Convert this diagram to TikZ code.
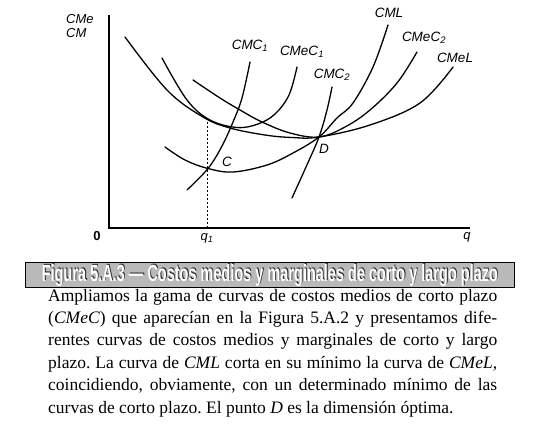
\documentclass[tikz,border=0pt]{standalone}
\usepackage{fontspec}
\setmainfont{Liberation Serif}
\setsansfont{Liberation Sans}
\usepackage{graphicx}
\begin{document}
\frenchspacing
\begin{tikzpicture}[x=1pt,y=-1pt,
  curve/.style={line width=1.3pt, line cap=round},
  axis/.style={line width=1.2pt},
  lab/.style={font=\sffamily\itshape\fontsize{13.5}{13.5}\selectfont, inner sep=0pt},
  axlab/.style={font=\sffamily\fontsize{13}{13}\selectfont, inner sep=0pt},
  para/.style={font=\fontsize{17.5}{17.5}\selectfont, inner sep=0pt, anchor=base west}]
\useasboundingbox (0,0) rectangle (535,428);
% axes
\coordinate (ytop) at (109,15);
\coordinate (orig) at (109,228);
\coordinate (xend) at (470,228);
\draw[axis] (ytop) -- (orig) -- (xend);
\node[axlab, anchor=west] (lCMe) at (66,19) {\itshape CMe};
\node[axlab, anchor=west] (lCM) at (66,33) {\itshape CM};
\node[axlab, font=\sffamily\bfseries\fontsize{13}{13}\selectfont] (l0) at (97,236) {0};
\node[axlab] (lq1) at (207,238) {\itshape q\textsubscript{1}};
\node[axlab] (lq) at (467,237) {\itshape q};
% points
\coordinate (C) at (208,168.5);
\coordinate (D) at (319,137);
\coordinate (q1top) at (207,122);
\coordinate (q1bot) at (207,228);
\draw[line width=0.8pt, dash pattern=on 2pt off 2pt] (q1top) -- (q1bot);
% CMeL
\draw[curve] plot[smooth, tension=0.6] coordinates {(125,37) (167,90) (203,117) (230,128) (265,135) (292,137.5) (D) (370,125) (420,103) (453,67)};
% CMeC1
\draw[curve] plot[smooth, tension=0.6] coordinates {(162,58) (187,100) (210,120) (237,127.5) (258,124) (275,114) (289,95) (297,67)};
% CMeC2
\draw[curve] plot[smooth, tension=0.6] coordinates {(193,80) (220,98) (240,110) (262,122) (290,133) (D) (345,127) (370,110) (397,83) (417,52)};
% CML
\draw[curve] plot[smooth, tension=0.6] coordinates {(165,147) (185,160) (C) (233,172) (267,165) (293,153) (D) (337,118) (353,103) (373,67) (388,25)};
% CMC1
\draw[curve] plot[smooth, tension=0.6] coordinates {(187,190) (C) (222,146) (233,122) (242,98) (250,62)};
% CMC2
\draw[curve] plot[smooth, tension=0.6] coordinates {(292,198) (306,167) (D) (327,110) (332,87)};
% labels
\node[lab] (lC) at (227,162) {C};
\node[lab] (lD) at (324,149) {D};
\node[lab] (lCMC1) at (250,46) {CMC\textsubscript{1}};
\node[lab] (lCMeC1) at (302,52) {CMeC\textsubscript{1}};
\node[lab] (lCMC2) at (332,75) {CMC\textsubscript{2}};
\node[lab] (lCML) at (389,13) {CML};
\node[lab] (lCMeC2) at (424,38) {CMeC\textsubscript{2}};
\node[lab] (lCMeL) at (455,58) {CMeL};
% banner
\node[draw=black, line width=1pt, fill=gray!55, minimum width=489pt, minimum height=25pt, anchor=north west, inner sep=0pt] (bar) at (25,262) {};
\node[inner sep=0pt, text=black!85] (bartextsh) at ([xshift=0.8pt,yshift=0.8pt]bar.center) {\resizebox{456pt}{17pt}{\sffamily\bfseries Figura 5.A.3 --- Costos medios y marginales de corto y largo plazo}};
\node[inner sep=0pt, text=white] (bartext) at (bar.center) {\resizebox{456pt}{17pt}{\sffamily\bfseries Figura 5.A.3 --- Costos medios y marginales de corto y largo plazo}};
% paragraph
\node[para] (p1) at (48,301) {\makebox[449pt][s]{Ampliamos la gama de curvas de costos medios de corto plazo}};
\node[para] (p2) at (48,323.4) {\makebox[449pt][s]{(\textit{CMeC}) que aparecían en la Figura 5.A.2 y presentamos dife-}};
\node[para] (p3) at (48,345.8) {\makebox[449pt][s]{rentes curvas de costos medios y marginales de corto y largo}};
\node[para] (p4) at (48,368.2) {\makebox[449pt][s]{plazo. La curva de \textit{CML} corta en su mínimo la curva de \textit{CMeL},}};
\node[para] (p5) at (48,390.6) {\makebox[449pt][s]{coincidiendo, obviamente, con un determinado mínimo de las}};
\node[para] (p6) at (48,413) {curvas de corto plazo. El punto \textit{D} es la dimensión óptima.};
\end{tikzpicture}
\end{document}
